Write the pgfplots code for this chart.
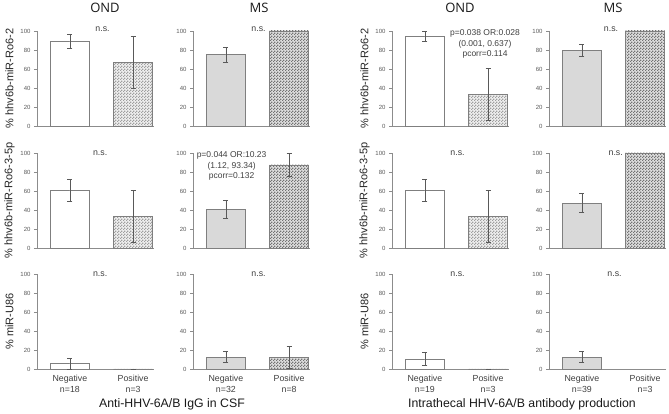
\documentclass[border=0pt]{standalone}
\usepackage{pgfplots}
\pgfplotsset{compat=1.18}
\usepackage{fontspec}
\setmainfont{Liberation Sans}
\newfontfamily\titlefont{Open Sans}
\usetikzlibrary{patterns}
\pgfdeclarepatternformonly{finechecker}{\pgfqpoint{0pt}{0pt}}{\pgfqpoint{2.6pt}{2.6pt}}{\pgfqpoint{2.6pt}{2.6pt}}{
 \pgfpathrectangle{\pgfqpoint{0pt}{0pt}}{\pgfqpoint{1.3pt}{1.3pt}}
 \pgfpathrectangle{\pgfqpoint{1.3pt}{1.3pt}}{\pgfqpoint{1.3pt}{1.3pt}}
 \pgfusepath{fill}}
\definecolor{axgray}{HTML}{8C8C8C}
\definecolor{edgegray}{HTML}{7F7F7F}
\definecolor{errgray}{HTML}{595959}
\definecolor{tickgray}{HTML}{595959}
\definecolor{barGray}{HTML}{D9D9D9}
\definecolor{labgray}{HTML}{404040}
\tikzset{
 ns/.style={font=\fontsize{8.8}{10}\selectfont, text=labgray},
 pv/.style={font=\fontsize{8.5}{10.5}\selectfont, text=labgray, align=center, anchor=north},
}
\pgfplotsset{
 panel/.style={
  scale only axis, width=117pt, height=95pt,
  xmin=-0.52, xmax=1.33, ymin=0, ymax=100,
  ytick={0,20,...,100}, xtick=\empty,
  axis x line*=bottom, axis y line*=left,
  axis line style={draw=axgray, line width=0.6pt},
  tick align=outside, major tick length=3pt,
  ytick style={draw=axgray, line width=0.5pt},
  /pgf/number format/assume math mode=true,
  yticklabel style={font=\fontsize{6}{7}\selectfont, text=tickgray},
  ybar, bar width=0.62, bar shift=0pt,
  anchor=south west, clip=false,
  ylabel style={at={(axis description cs:-0.235,0.5)}, anchor=center, font=\fontsize{11}{13}\selectfont, text=black!85},
 },
 bottomrow/.style={xtick={0,1}, xticklabel style={align=center, font=\fontsize{8.8}{10.5}\selectfont, text=labgray},
   major x tick style={draw=none}},
 negW/.style={fill=white, draw=edgegray, line width=0.6pt},
 negG/.style={fill=barGray, draw=edgegray, line width=0.6pt},
 posL/.style={fill=gray!12, draw=edgegray, line width=0.6pt, postaction={pattern=finechecker, pattern color=gray!75}},
 posD/.style={fill=gray!25, draw=edgegray, line width=0.6pt, postaction={pattern=finechecker, pattern color=black!55}},
 eb/.style={error bars/y dir=both, error bars/y explicit,
   error bars/error bar style={draw=errgray, line width=0.6pt},
   error bars/error mark options={draw=errgray, line width=0.6pt, mark size=2.5pt, rotate=90}},
}
\begin{document}
\begin{tikzpicture}
\path[use as bounding box] (0,0) rectangle (669pt,414pt);
% ---------- Row 1 ----------
\begin{axis}[panel, at={(37pt,288pt)}, ylabel={\% hhv6b-miR-Ro6-2}]
\addplot[negW, eb] coordinates {(0,88.9) +- (0,7.4)};
\addplot[posL, eb] coordinates {(1,66.7) +- (0,27.2)};
\node[ns] at (rel axis cs:0.56,1.015) {n.s.};
\end{axis}
\begin{axis}[panel, at={(193pt,288pt)}]
\addplot[negG, eb] coordinates {(0,75.0) +- (0,7.65)};
\addplot[posD] coordinates {(1,100)};
\node[ns] at (rel axis cs:0.56,1.015) {n.s.};
\end{axis}
\begin{axis}[panel, at={(392pt,288pt)}, ylabel={\% hhv6b-miR-Ro6-2}]
\addplot[negW, eb] coordinates {(0,94.7) +- (0,5.1)};
\addplot[posL, eb] coordinates {(1,33.3) +- (0,27.2)};
\node[pv] at (rel axis cs:0.795,1.05) {p=0.038 OR:0.028\\(0.001, 0.637)\\pcorr=0.114};
\end{axis}
\begin{axis}[panel, at={(549pt,288pt)}]
\addplot[negG, eb] coordinates {(0,79.5) +- (0,6.5)};
\addplot[posD] coordinates {(1,100)};
\node[ns] at (rel axis cs:0.53,1.015) {n.s.};
\end{axis}
% ---------- Row 2 ----------
\begin{axis}[panel, at={(37pt,166pt)}, ylabel={\% hhv6b-miR-Ro6-3-5p}]
\addplot[negW, eb] coordinates {(0,61.1) +- (0,11.5)};
\addplot[posL, eb] coordinates {(1,33.3) +- (0,27.8)};
\node[ns] at (rel axis cs:0.54,1.0) {n.s.};
\end{axis}
\begin{axis}[panel, at={(193pt,166pt)}]
\addplot[negG, eb] coordinates {(0,40.6) +- (0,9.5)};
\addplot[posD, eb] coordinates {(1,87.5) +- (0,11.7)};
\node[pv] at (rel axis cs:0.33,1.05) {p=0.044 OR:10.23\\(1.12, 93.34)\\pcorr=0.132};
\end{axis}
\begin{axis}[panel, at={(392pt,166pt)}, ylabel={\% hhv6b-miR-Ro6-3-5p}]
\addplot[negW, eb] coordinates {(0,61.1) +- (0,11.6)};
\addplot[posL, eb] coordinates {(1,33.3) +- (0,27.8)};
\node[ns] at (rel axis cs:0.56,1.0) {n.s.};
\end{axis}
\begin{axis}[panel, at={(549pt,166pt)}]
\addplot[negG, eb] coordinates {(0,47.4) +- (0,10.2)};
\addplot[posD] coordinates {(1,100)};
\node[ns] at (rel axis cs:0.57,1.0) {n.s.};
\end{axis}
% ---------- Row 3 ----------
\begin{axis}[panel, bottomrow, at={(37pt,45pt)}, ylabel={\% miR-U86},
  xticklabels={Negative\\n=18, Positive\\n=3}]
\addplot[negW, eb] coordinates {(0,5.6) +- (0,5.4)};
\addplot[posL, eb] coordinates {(1,0) +- (0,0)};
\node[ns] at (rel axis cs:0.54,1.0) {n.s.};
\end{axis}
\begin{axis}[panel, bottomrow, at={(193pt,45pt)},
  xticklabels={Negative\\n=32, Positive\\n=8}]
\addplot[negG, eb] coordinates {(0,12.5) +- (0,5.8)};
\addplot[posD, eb] coordinates {(1,12.5) +- (0,11.7)};
\node[ns] at (rel axis cs:0.56,1.0) {n.s.};
\end{axis}
\begin{axis}[panel, bottomrow, at={(392pt,45pt)}, ylabel={\% miR-U86},
  xticklabels={Negative\\n=19, Positive\\n=3}]
\addplot[negW, eb] coordinates {(0,10.5) +- (0,7.0)};
\addplot[posL, eb] coordinates {(1,0) +- (0,0)};
\node[ns] at (rel axis cs:0.56,1.0) {n.s.};
\end{axis}
\begin{axis}[panel, bottomrow, at={(549pt,45pt)},
  xticklabels={Negative\\n=39, Positive\\n=3}]
\addplot[negG, eb] coordinates {(0,12.8) +- (0,5.4)};
\addplot[draw=none, fill=none] coordinates {(1,0)};
\node[ns] at (rel axis cs:0.56,1.0) {n.s.};
\end{axis}
% ---------- Titles ----------
\node[font=\titlefont\fontsize{13}{15}\selectfont, text=black!90] at (105pt,406pt) {OND};
\node[font=\titlefont\fontsize{13}{15}\selectfont, text=black!90] at (259pt,406pt) {MS};
\node[font=\titlefont\fontsize{13}{15}\selectfont, text=black!90] at (460pt,406pt) {OND};
\node[font=\titlefont\fontsize{13}{15}\selectfont, text=black!90] at (613pt,406pt) {MS};
\node[font=\fontsize{12.3}{14}\selectfont, text=black!90] at (172pt,10pt) {Anti-HHV-6A/B IgG in CSF};
\node[font=\fontsize{12.3}{14}\selectfont, text=black!90] at (522pt,10pt) {Intrathecal HHV-6A/B antibody production};
\end{tikzpicture}
\end{document}
